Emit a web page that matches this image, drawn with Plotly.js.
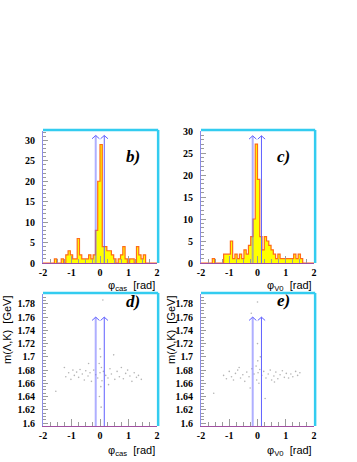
<!DOCTYPE html>
<html>
<head>
<meta charset="utf-8">
<script src="https://cdn.plot.ly/plotly-3.0.1.min.js"></script>
<style>
  html, body { margin: 0; padding: 0; background: #fff; }
  #plot { width: 357px; height: 462px; }
</style>
</head>
<body>
<div id="plot"></div>
<script>
// histogram binning: 50 bins of 0.08 rad from -2 to 2
var binLow = -2;
var binWidth = 0.08;

// b) phi_cas counts per bin
var countsCas = [0,0,0,0,0, 1,0,0,1,0, 2,3,2,1,1, 6,2,1,1,1, 2,1,2,8,20,
                 29,4,4,3,3, 2,1,0,1,2, 4,1,0,1,1, 0,4,2,1,2, 0,0,0,0,0];
// c) phi_V0 counts per bin
var countsV0 = [0,0,0,0,0, 1,0,0,0,0, 2,2,2,5,1, 2,1,2,1,3, 2,4,6,10,27,
                19,6,3,6,5, 4,3,2,1,2, 1,1,1,1,1, 1,2,1,2,1, 0,0,0,0,0];

// d) scatter: phi_cas vs m(Lambda,K)
var phiCasD = [-1.25,-1.2,-1.1,-1.02,-0.95,-0.9,-0.82,-0.75,-0.7,-0.62,-0.55,-0.5,-0.42,-0.35,-0.3,-0.22,-0.15,-0.08,
               -0.03,0.0,0.02,0.05,0.07,0.0,0.03,-0.02,0.04,0.1,0.12,0.2,0.28,0.35,0.4,0.48,0.52,0.6,0.68,0.75,
               0.82,0.9,0.97,1.05,1.12,1.2,1.28,1.35,1.45,-1.55,0.3,-0.4];
var massD = [1.684,1.670,1.676,1.666,1.680,1.672,1.677,1.669,1.681,1.674,1.665,1.679,1.671,1.676,1.663,1.680,1.673,1.668,
             1.690,1.676,1.700,1.684,1.664,1.712,1.655,1.640,1.624,1.786,1.678,1.672,1.668,1.682,1.674,1.703,1.666,1.678,1.670,1.684,
             1.667,1.675,1.680,1.671,1.663,1.676,1.669,1.672,1.666,1.648,1.658,1.690];

// e) scatter: phi_V0 vs m(Lambda,K)
var phiV0E = [-1.55,-1.2,-1.1,-1.0,-0.92,-0.85,-0.78,-0.7,-0.6,-0.52,-0.45,-0.38,-0.3,-0.26,-0.2,-0.22,-0.12,-0.05,
              0.0,0.0,0.01,0.02,-0.03,0.05,0.08,0.1,0.15,0.22,0.27,0.3,0.38,0.45,0.5,0.58,0.65,0.72,0.8,0.88,
              0.95,1.02,1.1,1.18,1.25,1.35,1.42,1.5,0.6,-0.65];
var massE = [1.645,1.672,1.667,1.678,1.670,1.665,1.675,1.680,1.668,1.673,1.663,1.677,1.670,1.653,1.682,1.766,1.674,1.686,
             1.783,1.720,1.694,1.676,1.665,1.660,1.681,1.700,1.672,1.678,1.637,1.668,1.674,1.680,1.665,1.671,1.677,1.667,1.673,1.679,
             1.669,1.675,1.668,1.674,1.670,1.678,1.672,1.676,1.662,1.684];

// selection cuts (arrows)
var cutCas = [-0.15, 0.15];
var cutV0 = [-0.17, 0.14];
var arrowTop = { b: 31.2, c: 28.9, d: 1.76, e: 1.76 };

// tick labels
var xTickVals = [-2, -1, 0, 1, 2];
var xTickText = ['-2', '-1', '0', '1', '2'];
var histTickVals = [0, 5, 10, 15, 20, 25, 30];
var histTickText = ['0', '5', '10', '15', '20', '25', '30'];
var massTickVals = [1.6, 1.62, 1.64, 1.66, 1.68, 1.7, 1.72, 1.74, 1.76, 1.78];
var massTickText = ['1.6', '1.62', '1.64', '1.66', '1.68', '1.7', '1.72', '1.74', '1.76', '1.78'];

var massRange = [1.5955, 1.795];

// step outline like a ROOT histogram
function stepTrace(counts, xa, ya) {
  var x = [], y = [];
  for (var i = 0; i < counts.length; i++) {
    x.push(binLow + i * binWidth);
    y.push(counts[i]);
  }
  x.push(binLow + counts.length * binWidth);
  y.push(counts[counts.length - 1]);
  return {
    x: x, y: y, type: 'scatter', mode: 'lines',
    line: { shape: 'hv', color: '#ff6a1a', width: 1.2 },
    fill: 'tozeroy', fillcolor: '#ffff00',
    xaxis: xa, yaxis: ya, hoverinfo: 'skip'
  };
}

// vertical cut line with a chevron head on top
function cutTraces(cuts, bottom, top, headH, xa, ya) {
  var out = [];
  var w = 0.13;
  cuts.forEach(function (c, i) {
    var col = i === 0 ? 'rgba(110,110,255,0.55)' : '#6060ff';
    var wid = i === 0 ? 2 : 1;
    out.push({ x: [c, c], y: [bottom, top], mode: 'lines', line: { color: col, width: wid },
               xaxis: xa, yaxis: ya, hoverinfo: 'skip' });
    out.push({ x: [c - w, c, c + w], y: [top - headH, top, top - headH], mode: 'lines',
               line: { color: '#6060ff', width: 1 }, xaxis: xa, yaxis: ya, hoverinfo: 'skip' });
  });
  return out;
}

function scatterTrace(x, y, xa, ya) {
  return { x: x, y: y, type: 'scatter', mode: 'markers',
           marker: { size: 1.6, color: '#b4b4b4' }, xaxis: xa, yaxis: ya, hoverinfo: 'skip' };
}

var data = [
  stepTrace(countsCas, 'x', 'y'),
  stepTrace(countsV0, 'x2', 'y2'),
  scatterTrace(phiCasD, massD, 'x3', 'y3'),
  scatterTrace(phiV0E, massE, 'x4', 'y4')
]
  .concat(cutTraces(cutCas, 0, arrowTop.b, 0.8, 'x', 'y'))
  .concat(cutTraces(cutV0, 0, arrowTop.c, 0.75, 'x2', 'y2'))
  .concat(cutTraces(cutCas, massRange[0], arrowTop.d, 0.005, 'x3', 'y3'))
  .concat(cutTraces(cutV0, massRange[0], arrowTop.e, 0.005, 'x4', 'y4'));

var tickFont = { family: 'Liberation Serif', size: 10, weight: 'bold', color: '#000' };

function xAx(domain, anchor) {
  return {
    domain: domain, anchor: anchor, range: [-2, 2],
    tickmode: 'array', tickvals: xTickVals, ticktext: xTickText,
    ticks: 'inside', ticklen: 7, tickcolor: '#9a9a9a', tickwidth: 1,
    minor: { ticks: 'inside', ticklen: 4, tick0: -2, dtick: 0.25, tickcolor: '#9a9a9a' },
    showgrid: false, zeroline: false, showline: true, linecolor: '#a050a0', linewidth: 1,
    tickfont: tickFont, ticklabelstandoff: 0, fixedrange: true
  };
}

function yAx(domain, anchor, range, vals, text, minorStep) {
  return {
    domain: domain, anchor: anchor, range: range,
    tickmode: 'array', tickvals: vals, ticktext: text,
    ticks: 'inside', ticklen: 5, tickcolor: '#9a9a9a', tickwidth: 1,
    minor: { ticks: 'inside', ticklen: 3, tick0: vals[0], dtick: minorStep, tickcolor: '#9a9a9a' },
    showgrid: false, zeroline: false, showline: true, linecolor: '#8c8ce8', linewidth: 1,
    tickfont: tickFont, ticklabelstandoff: 5, fixedrange: true
  };
}

var colL = [43 / 357, 157 / 357];
var colR = [201 / 357, 314 / 357];
var rowT = [1 - 263 / 462, 1 - 131 / 462];
var rowB = [1 - 426 / 462, 1 - 294 / 462];

// cyan frame on top and right of each pad
var shapes = [];
[['x', 'y'], ['x2', 'y2'], ['x3', 'y3'], ['x4', 'y4']].forEach(function (p) {
  shapes.push({ type: 'line', xref: p[0] + ' domain', yref: p[1] + ' domain', x0: 0, x1: 1.01, y0: 1.008, y1: 1.008,
                line: { color: '#33ccf0', width: 2.5 } });
  shapes.push({ type: 'line', xref: p[0] + ' domain', yref: p[1] + ' domain', x0: 1.01, x1: 1.01, y0: 0, y1: 1.008,
                line: { color: '#33ccf0', width: 2.5 } });
});

var labelFont = { family: 'Liberation Serif', size: 17, weight: 'bold', style: 'italic', color: '#000' };
var titleFont = { family: 'Liberation Sans', size: 11, color: '#000' };

function pad(txt, x, y) {
  return { text: txt, xref: 'paper', yref: 'paper', x: x, y: y, showarrow: false, font: labelFont };
}
function xTitle(txt, xRight, y) {
  return { text: txt, xref: 'paper', yref: 'paper', x: xRight, y: y, xanchor: 'right', yanchor: 'middle',
           showarrow: false, font: titleFont };
}
function yTitle(x) {
  return { text: 'm(Λ,K)  [GeV]', xref: 'paper', yref: 'paper', x: x, y: 1 - 294 / 462, xanchor: 'center', yanchor: 'top',
           textangle: -90, showarrow: false, font: titleFont };
}

var annotations = [
  pad('b)', 133 / 357, 1 - 145 / 462),
  pad('c)', 292 / 357, 1 - 145 / 462),
  pad('d)', 133 / 357, 1 - 313 / 462),
  pad('e)', 292 / 357, 1 - 312 / 462),
  xTitle('φ<sub>cas</sub>  [rad]', 157 / 357, 1 - 286 / 462),
  xTitle('φ<sub>V0</sub>  [rad]', 314 / 357, 1 - 286 / 462),
  xTitle('φ<sub>cas</sub>  [rad]', 157 / 357, 1 - 451 / 462),
  xTitle('φ<sub>V0</sub>  [rad]', 314 / 357, 1 - 451 / 462),
  yTitle(7 / 357),
  yTitle(171 / 357)
];

var layout = {
  width: 357, height: 462,
  margin: { l: 0, r: 0, t: 0, b: 0 },
  paper_bgcolor: '#fff', plot_bgcolor: '#fff',
  showlegend: false,
  xaxis: xAx(colL, 'y'),
  yaxis: yAx(rowT, 'x', [0, 32.3], histTickVals, histTickText, 1),
  xaxis2: xAx(colR, 'y2'),
  yaxis2: yAx(rowT, 'x2', [0, 30], histTickVals, histTickText, 1),
  xaxis3: xAx(colL, 'y3'),
  yaxis3: yAx(rowB, 'x3', massRange, massTickVals, massTickText, 0.005),
  xaxis4: xAx(colR, 'y4'),
  yaxis4: yAx(rowB, 'x4', massRange, massTickVals, massTickText, 0.005),
  shapes: shapes,
  annotations: annotations
};

Plotly.newPlot('plot', data, layout, { staticPlot: true });
</script>
</body>
</html>
